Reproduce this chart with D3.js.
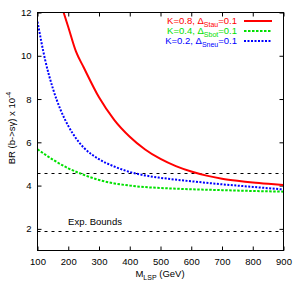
<!DOCTYPE html>
<html>
<head>
<meta charset="UTF-8" />
<title>BR b->s gamma</title>
<script src="https://cdn.jsdelivr.net/npm/d3@7"></script>
<style type="text/css">
body {
    margin: 0;
    background-color: #fff;
    font-family: "Liberation Sans", Arial, sans-serif;
}
.axis text {
    font-size: 9.5px;
    fill: #000;
}
</style>
</head>
<body>
<svg id="svg1" width="300" height="281"></svg>
<script type="text/javascript">
// curves (M_LSP in GeV, BR in 1e-4)
var redM   = [185, 200, 225, 250, 300, 350, 400, 450, 500, 550, 600, 650, 700, 750, 800, 850, 900];
var redBR  = [12.0, 11.33, 10.2, 9.47, 8.08, 7.03, 6.26, 5.67, 5.23, 4.9, 4.65, 4.46, 4.32, 4.22, 4.14, 4.08, 4.03];
var greenM  = [100, 150, 200, 250, 300, 350, 400, 450, 500, 600, 700, 800, 900];
var greenBR = [5.68, 5.2, 4.8, 4.5, 4.26, 4.1, 4.0, 3.93, 3.89, 3.83, 3.79, 3.75, 3.72];
var blueM  = [100, 125, 150, 175, 200, 225, 250, 300, 350, 400, 450, 500, 600, 700, 800, 900];
var blueBR = [11.58, 9.8, 8.49, 7.5, 6.76, 6.19, 5.76, 5.22, 4.88, 4.63, 4.47, 4.36, 4.2, 4.06, 3.94, 3.82];
var bounds = [4.6, 1.9];
var xTicks = [100, 200, 300, 400, 500, 600, 700, 800, 900];
var yTicks = [2, 4, 6, 8, 10, 12];
var legendK = ["K=0.8, ", "K=0.4, ", "K=0.2, "];
var legendSub = ["Stau", "Sbot", "Sneu"];

var svg = d3.select("#svg1");
var x = d3.scaleLinear().domain([100, 900]).range([37.5, 283.5]);
var y = d3.scaleLinear().domain([1, 12]).range([250.5, 12.5]);

var series = [
    {m: redM, v: redBR, color: "#ff0000", dash: null},
    {m: greenM, v: greenBR, color: "#00e000", dash: "2.5,1.5"},
    {m: blueM, v: blueBR, color: "#0000ff", dash: "2,1.5"}
];

svg.append("defs").append("clipPath").attr("id", "clip")
    .append("rect").attr("x", 37.5).attr("y", 12.5).attr("width", 246).attr("height", 238);

// axes with inward ticks, mirrored
var ax = svg.append("g").attr("class", "axis");
ax.append("g").attr("transform", "translate(0,250.5)")
    .call(d3.axisBottom(x).tickValues(xTicks).tickSize(-4).tickPadding(8))
    .call(function(g) { g.select(".domain").remove(); });
ax.append("g").attr("transform", "translate(0,12.5)")
    .call(d3.axisTop(x).tickValues(xTicks).tickSize(-4).tickFormat(""))
    .call(function(g) { g.select(".domain").remove(); });
ax.append("g").attr("transform", "translate(37.5,0)")
    .call(d3.axisLeft(y).tickValues(yTicks).tickSize(-4).tickPadding(6))
    .call(function(g) { g.select(".domain").remove(); });
ax.append("g").attr("transform", "translate(283.5,0)")
    .call(d3.axisRight(y).tickValues(yTicks).tickSize(-4).tickFormat(""))
    .call(function(g) { g.select(".domain").remove(); });

// exp bounds
svg.append("g").selectAll("line").data(bounds).enter().append("line")
    .attr("x1", x(100)).attr("x2", x(900))
    .attr("y1", function(d) { return Math.round(y(d)) + 0.5; })
    .attr("y2", function(d) { return Math.round(y(d)) + 0.5; })
    .attr("stroke", "#000").attr("stroke-width", 1).attr("stroke-dasharray", "3,4");

svg.append("text").attr("x", 95).attr("y", 225).attr("text-anchor", "middle")
    .attr("font-size", "9.5px").text("Exp. Bounds");

var line = d3.line().curve(d3.curveMonotoneX);
svg.append("g").attr("clip-path", "url(#clip)").selectAll("path").data(series).enter().append("path")
    .attr("d", function(s) {
        return line(s.m.map(function(m, i) { return [x(m), y(s.v[i])]; }));
    })
    .attr("fill", "none")
    .attr("stroke", function(s) { return s.color; })
    .attr("stroke-width", 2)
    .attr("stroke-dasharray", function(s) { return s.dash; });

// frame
svg.append("rect").attr("x", 37.5).attr("y", 12.5).attr("width", 246).attr("height", 238)
    .attr("fill", "none").attr("stroke", "#000").attr("stroke-width", 1);

// legend
var leg = svg.append("g");
series.forEach(function(s, i) {
    var ly = 21 + i * 10;
    var t = leg.append("text").attr("x", 237).attr("y", ly + 3).attr("text-anchor", "end")
        .attr("font-size", "9.5px").attr("fill", s.color);
    t.append("tspan").text(legendK[i] + "\u0394");
    t.append("tspan").attr("font-size", "7px").attr("dy", 3).text(legendSub[i]);
    t.append("tspan").attr("dy", -3).text("=0.1");
    leg.append("line").attr("x1", 244).attr("x2", 272).attr("y1", ly).attr("y2", ly)
        .attr("stroke", s.color).attr("stroke-width", 2).attr("stroke-dasharray", s.dash);
});

// axis titles
var yl = svg.append("text").attr("transform", "translate(15,128) rotate(-90)")
    .attr("text-anchor", "middle").attr("font-size", "9.5px");
yl.append("tspan").text("BR (b->s\u03b3) x 10");
yl.append("tspan").attr("font-size", "7px").attr("dy", -4).text("-4");

var xl = svg.append("text").attr("x", 160).attr("y", 277).attr("text-anchor", "middle")
    .attr("font-size", "9.5px");
xl.append("tspan").text("M");
xl.append("tspan").attr("font-size", "7px").attr("dy", 3).text("LSP");
xl.append("tspan").attr("dy", -3).text("  (GeV)");
</script>
</body>
</html>
